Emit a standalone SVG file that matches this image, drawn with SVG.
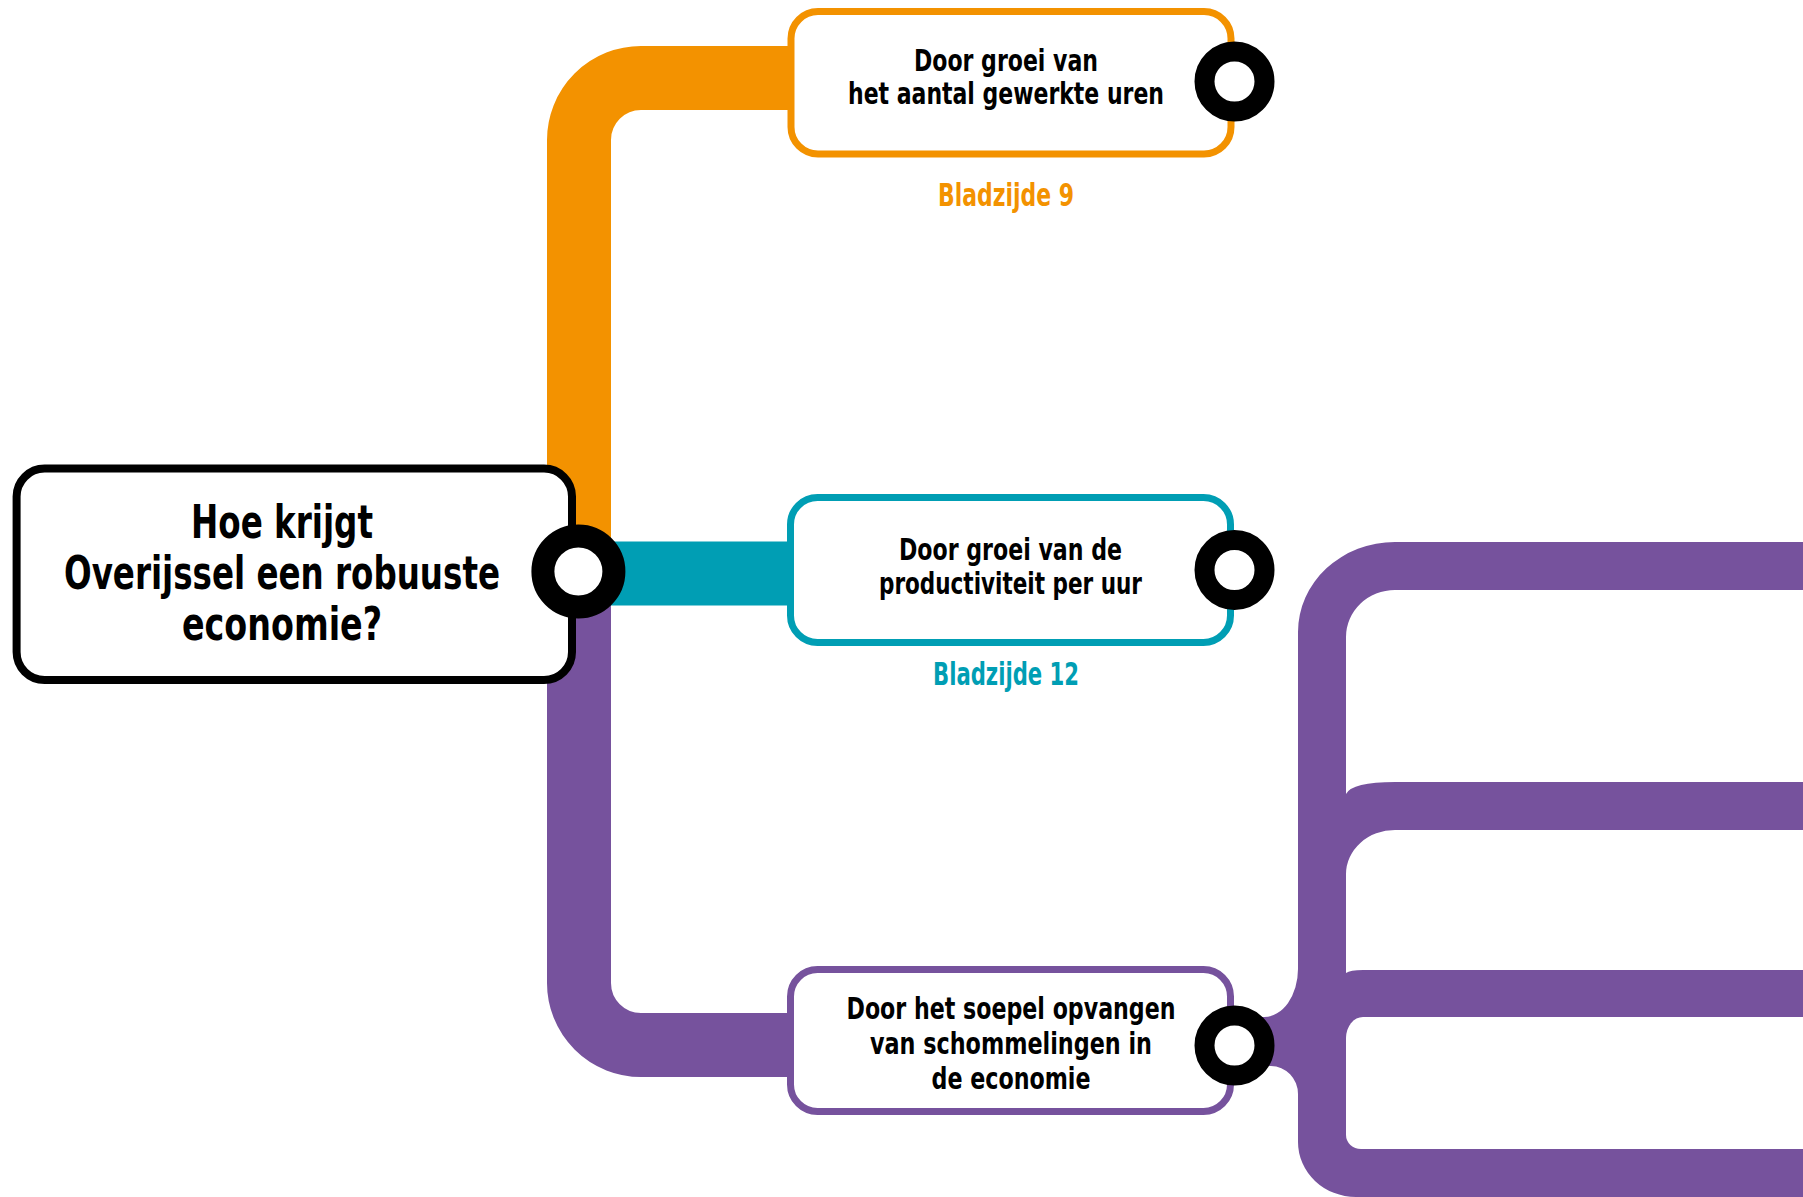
<svg xmlns="http://www.w3.org/2000/svg" width="1803" height="1197" viewBox="0 0 1803 1197">
  <style>
    .t { font-family: "Liberation Sans Narrow", "DejaVu Sans Condensed", "Liberation Sans", sans-serif; font-weight: bold; text-anchor: middle; fill: #000; }
    .main { font-size: 46px; }
    .sub { font-size: 31px; }
    .page { font-size: 32px; }
    .box { fill: #fff; stroke-width: 7; }
    .dot { fill: #fff; stroke: #000; }
    .line { fill: none; stroke-width: 64; stroke-linecap: butt; }
  </style>
  <rect width="1803" height="1197" fill="#fff"/>

  <g id="connectors">
    <path class="line" d="M 579 572 V 140 A 62 62 0 0 1 641 78 H 795" stroke="#F39200"/>
    <path class="line" d="M 578 573.5 H 795" stroke="#009EB4"/>
    <path class="line" d="M 579 572 V 983 A 62 62 0 0 0 641 1045 H 795" stroke="#76529D"/>
    <g id="purple-branches">
      <path fill="#76529D" d="M 1810 542 H 1395 A 97 90 0 0 0 1298 632 V 969 A 34 48 0 0 1 1264 1017 H 1236 V 1066 H 1271 A 27 28 0 0 1 1298 1094 V 1142 A 58 55 0 0 0 1356 1197 H 1810 Z"/>
      <path fill="#fff" d="M 1810 590 H 1395 A 49 47 0 0 0 1346 637 V 794 Q 1352 782 1395 782 H 1810 Z"/>
      <path fill="#fff" d="M 1810 830 H 1395 A 49 44 0 0 0 1346 874 V 973 Q 1350 970 1363 970 H 1810 Z"/>
      <path fill="#fff" d="M 1810 1017 H 1363 A 17 21 0 0 0 1346 1038 V 1135 A 15 14 0 0 0 1361 1149 H 1810 Z"/>
    </g>
  </g>

  <g id="node-question">
    <rect x="16.6" y="468.6" width="555.4" height="211.4" rx="28" ry="28" fill="#fff" stroke="#000" stroke-width="8"/>
    <text class="t main" x="282" y="538" textLength="182" lengthAdjust="spacingAndGlyphs">Hoe krijgt</text>
    <text class="t main" x="282" y="589" textLength="436" lengthAdjust="spacingAndGlyphs">Overijssel een robuuste</text>
    <text class="t main" x="282" y="640" textLength="200" lengthAdjust="spacingAndGlyphs">economie?</text>
    <circle class="dot" cx="578.4" cy="571.5" r="35.5" stroke-width="23"/>
  </g>

  <g id="node-uren">
    <rect class="box" x="791" y="11.5" width="440" height="142.5" rx="27" ry="27" stroke="#F39200"/>
    <text class="t sub" x="1006" y="71" textLength="184" lengthAdjust="spacingAndGlyphs">Door groei van</text>
    <text class="t sub" x="1006" y="104" textLength="316" lengthAdjust="spacingAndGlyphs">het aantal gewerkte uren</text>
    <circle class="dot" cx="1234.5" cy="81.5" r="30" stroke-width="20"/>
    <text class="t page" x="1006" y="206" textLength="136" lengthAdjust="spacingAndGlyphs" fill="#F39200" style="fill:#F39200">Bladzijde 9</text>
  </g>

  <g id="node-productiviteit">
    <rect class="box" x="790.5" y="497.5" width="440" height="145" rx="27" ry="27" stroke="#009EB4"/>
    <text class="t sub" x="1010.5" y="560" textLength="223" lengthAdjust="spacingAndGlyphs">Door groei van de</text>
    <text class="t sub" x="1010.5" y="593.5" textLength="263" lengthAdjust="spacingAndGlyphs">productiviteit per uur</text>
    <circle class="dot" cx="1234.5" cy="570" r="30" stroke-width="20"/>
    <text class="t page" x="1006" y="685" textLength="146" lengthAdjust="spacingAndGlyphs" style="fill:#009EB4">Bladzijde 12</text>
  </g>

  <g id="node-schommelingen">
    <rect class="box" x="790.5" y="969.5" width="440" height="142" rx="27" ry="27" stroke="#76529D"/>
    <text class="t sub" x="1011" y="1019" textLength="329" lengthAdjust="spacingAndGlyphs">Door het soepel opvangen</text>
    <text class="t sub" x="1011" y="1054" textLength="282" lengthAdjust="spacingAndGlyphs">van schommelingen in</text>
    <text class="t sub" x="1011" y="1089" textLength="159" lengthAdjust="spacingAndGlyphs">de economie</text>
    <circle class="dot" cx="1234.5" cy="1045.5" r="30" stroke-width="20"/>
  </g>
</svg>
